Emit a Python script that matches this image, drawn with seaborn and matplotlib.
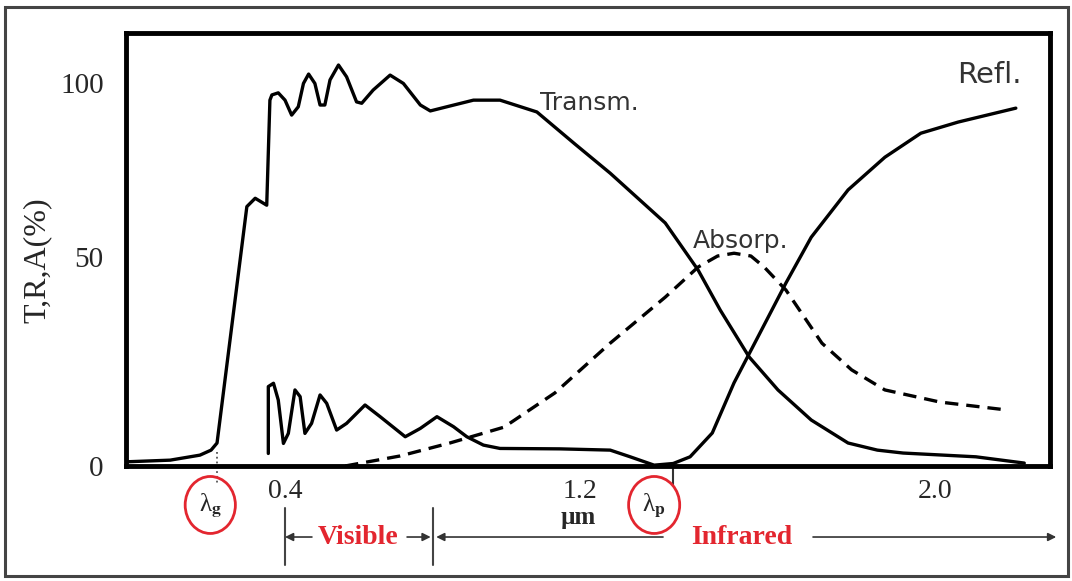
import numpy as np
import matplotlib.pyplot as plt
import seaborn as sns
from matplotlib.patches import Rectangle

# wavelength (um) / percent values
T_X = [0.0, 0.111, 0.186, 0.214, 0.229, 0.304, 0.325, 0.354, 0.362, 0.367,
       0.383, 0.400, 0.418, 0.436, 0.450, 0.464, 0.481, 0.495, 0.508, 0.522,
       0.545, 0.567, 0.594, 0.608, 0.639, 0.685, 0.721, 0.767, 0.794, 0.839,
       0.911, 0.983, 1.083, 1.186, 1.268, 1.392, 1.466, 1.516, 1.581, 1.646,
       1.721, 1.804, 1.870, 1.928, 2.092, 2.201]
T_Y = [1.0, 1.4, 2.6, 3.8, 5.5, 64.5, 66.9, 64.9, 95.1, 96.6,
       97.2, 95.1, 90.8, 93.2, 99.9, 102.6, 99.9, 93.7, 93.7, 100.9,
       105.2, 101.8, 94.6, 94.2, 98.0, 102.3, 99.9, 93.7, 92.0, 93.2,
       95.1, 95.1, 91.7, 82.5, 74.1, 59.8, 46.9, 37.3, 26.1, 18.2,
       11.0, 5.5, 3.8, 3.1, 2.2, 0.7]

R_X = [0.358, 0.358, 0.371, 0.383, 0.396, 0.409, 0.427, 0.441, 0.454, 0.472,
       0.495, 0.513, 0.540, 0.567, 0.617, 0.658, 0.726, 0.767, 0.812, 0.857,
       0.893, 0.938, 0.983, 1.146, 1.268, 1.313, 1.367, 1.410, 1.448, 1.498,
       1.547, 1.597, 1.664, 1.721, 1.804, 1.887, 1.968, 2.052, 2.182]
R_Y = [3.0, 19.0, 19.8, 15.8, 5.4, 7.8, 18.2, 16.6, 7.8, 10.2,
       17.0, 15.0, 8.6, 10.2, 14.6, 11.8, 7.0, 9.0, 11.8, 9.4,
       7.0, 5.0, 4.2, 4.1, 3.8, 2.2, 0.2, 0.6, 2.2, 7.9,
       19.9, 30.1, 43.8, 55.7, 69.3, 78.7, 85.6, 88.8, 92.8]

A_X = [0.563, 0.712, 0.847, 0.994, 1.132, 1.268, 1.392, 1.466, 1.510, 1.547,
       1.585, 1.615, 1.664, 1.745, 1.812, 1.887, 2.011, 2.162]
A_Y = [0.0, 2.4, 5.5, 9.3, 17.5, 29.4, 40.4, 47.6, 50.3, 51.1,
       50.3, 47.6, 42.1, 29.4, 23.0, 18.2, 15.3, 13.4]

X_TICKS = [0.2, 0.4, 0.8, 1.0, 1.2, 1.6, 1.8, 2.0]
X_LABELS = ['', '0.4', '', '', '1.2', '', '', '2.0']
Y_TICKS = [0, 10, 20, 30, 40, 50, 62.5, 75, 87.5, 100]
Y_LABELS = ['0', '', '', '', '', '50', '', '', '', '100']

LAMBDA_G = 0.229
LAMBDA_P = 1.41
VISIBLE = (0.4, 0.8)

sns.set_style("white")
plt.rcParams['font.family'] = ['Liberation Serif', 'DejaVu Serif']
plt.rcParams['mathtext.fontset'] = 'stix'

fig = plt.figure(figsize=(10.72, 5.81), dpi=100)
ax = fig.add_axes([126 / 1072, 1 - 466 / 581, 924 / 1072, 433 / 581])

# the hand drawn axes are not evenly spaced, piecewise linear scales copy that
xk, xp = [-0.2, 0.0, 0.4, 1.2, 2.0, 2.6], [46.5, 126, 285, 580, 935, 1201.25]
yk, yp = [-20, 0, 50, 100, 130], [-83.6, 0, 209, 383, 487.4]
ax.set_xscale('function', functions=(lambda v: np.interp(v, xk, xp),
                                     lambda p: np.interp(p, xp, xk)))
ax.set_yscale('function', functions=(lambda v: np.interp(v, yk, yp),
                                     lambda p: np.interp(p, yp, yk)))

lw = 2.4
line_kw = dict(ax=ax, color='black', linewidth=lw, sort=False, estimator=None)
sns.lineplot(x=T_X, y=T_Y, **line_kw).lines[-1].set_solid_joinstyle('round')
sns.lineplot(x=R_X, y=R_Y, **line_kw).lines[-1].set_solid_joinstyle('round')
sns.lineplot(x=A_X, y=A_Y, linestyle=(0, (4, 2.4)), **line_kw)

ax.set_xlim(0, 2.259)
ax.set_ylim(0, 114.4)
ax.set_xticks(X_TICKS, X_LABELS)
ax.set_yticks(Y_TICKS, Y_LABELS)
ax.tick_params(axis='x', direction='in', length=7, width=1.5, pad=9, labelsize=20)
ax.tick_params(axis='y', direction='in', length=11, width=1.8, pad=16, labelsize=21)
for s in ax.spines.values():
    s.set_linewidth(3.5)
    s.set_color('black')

ax.set_ylabel('T,R,A(%)', fontsize=23)
ax.yaxis.set_label_coords(-0.080, 0.476)

kw = dict(family='DejaVu Sans', color='#333333', va='center')
ax.text(1.092, 94.3, 'Transm.', ha='left', fontsize=18, **kw)
ax.text(1.561, 54.6, 'Absorp.', ha='center', fontsize=18, **kw)
ax.text(2.122, 102.3, 'Refl.', ha='center', fontsize=21, **kw)

# annotations under the x axis
trans = ax.get_xaxis_transform()
red = '#e3262f'
ax.plot([LAMBDA_G, LAMBDA_G], [0.032, -0.039], transform=trans, clip_on=False,
        color='#555555', lw=1.3, ls=':')
ax.plot([LAMBDA_P, LAMBDA_P], [0.0, -0.044], transform=trans, clip_on=False,
        color='#333333', lw=1.5)
circ = dict(boxstyle='ellipse,pad=0.25', fc='none', ec=red, lw=2)
ax.text(0.212, -0.09, r'λ$_\mathbf{g}$', transform=trans, ha='center', va='center',
        fontsize=18, bbox=circ)
ax.text(1.367, -0.09, r'λ$_\mathbf{p}$', transform=trans, ha='center', va='center',
        fontsize=18, bbox=circ)
ax.text(1.195, -0.118, 'µm', transform=trans, ha='center', va='center',
        fontsize=18, fontweight='bold')

for xv in VISIBLE:
    ax.plot([xv, xv], [-0.097, -0.229], transform=trans, clip_on=False, color='#444444', lw=1.5)

arrow = dict(arrowstyle='-|>', color='#333333', lw=1.2, mutation_scale=12, shrinkA=0, shrinkB=0)
yy = -0.164
for start, end in [(0.473, VISIBLE[0]), (0.731, VISIBLE[1] - 0.005),
                   (1.387, VISIBLE[1] + 0.01), (1.725, 2.273)]:
    ax.annotate('', xy=(end, yy), xytext=(start, yy), xycoords=trans, textcoords=trans,
                arrowprops=arrow, annotation_clip=False)

ax.text(0.598, yy, 'Visible', transform=trans, color=red, fontweight='bold', fontsize=20,
        ha='center', va='center')
ax.text(1.565, yy, 'Infrared', transform=trans, color=red, fontweight='bold', fontsize=20,
        ha='center', va='center')

fig.patches.append(Rectangle((5 / 1072, 1 - 576 / 581), 1063 / 1072, 569 / 581,
                             transform=fig.transFigure, fill=False, lw=2.2, ec='#444444'))

fig.savefig('out.png', dpi=100)
